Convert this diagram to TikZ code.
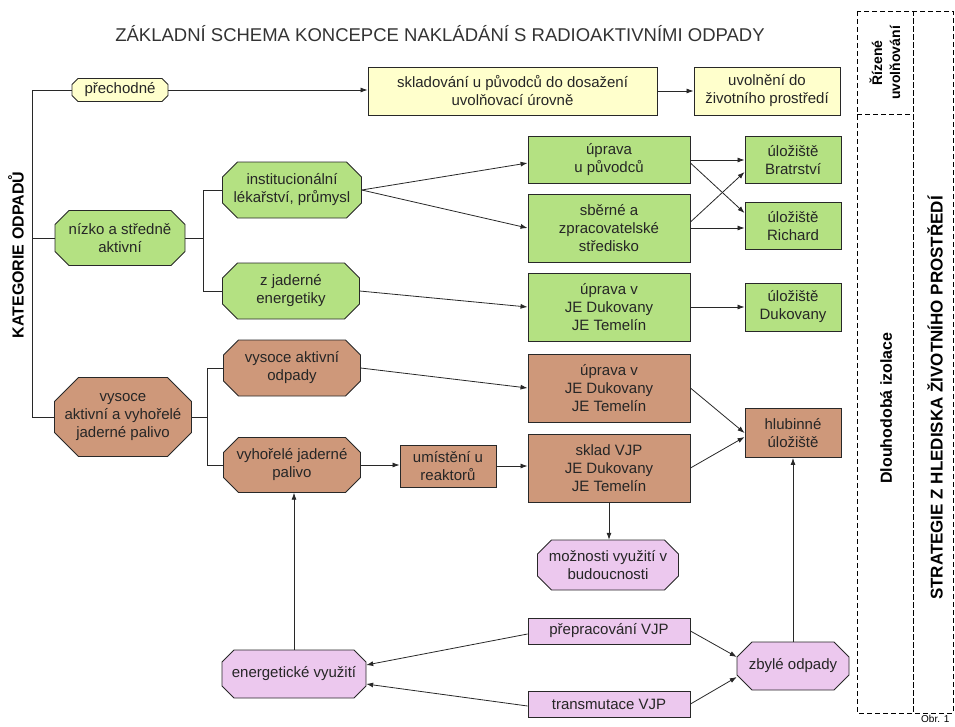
\documentclass[tikz,border=0pt]{standalone}
\usepackage{fontspec}
\setmainfont{Liberation Sans}
\usetikzlibrary{arrows.meta}
\definecolor{yel}{RGB}{255,255,204}
\definecolor{grn}{RGB}{180,225,130}
\definecolor{brn}{RGB}{206,152,122}
\definecolor{pnk}{RGB}{236,200,238}
\definecolor{edge}{RGB}{40,40,40}
\tikzset{
  shapeline/.style={draw=edge, line width=0.9pt},
  txt/.style={align=center, inner sep=0pt, font=\fontsize{15}{18}\selectfont, text=black!85},
  rbox/.style={txt, shapeline, rectangle},
  link/.style={draw=edge, line width=0.8pt},
  arr/.style={link, -{Latex[length=7pt,width=5pt]}},
  zone/.style={draw=black, line width=0.9pt, dash pattern=on 5pt off 3pt},
  vlabel/.style={rotate=90, align=center, inner sep=0pt, font=\fontsize{16}{18}\selectfont\bfseries},
}
% name, cx, cy, w, h, chamfer, fill, text
\newcommand\octo[8]{%
  \filldraw[shapeline, fill=#7]
    (#2-#4/2+#6, #3-#5/2) -- (#2+#4/2-#6, #3-#5/2) -- (#2+#4/2, #3-#5/2+#6) --
    (#2+#4/2, #3+#5/2-#6) -- (#2+#4/2-#6, #3+#5/2) -- (#2-#4/2+#6, #3+#5/2) --
    (#2-#4/2, #3+#5/2-#6) -- (#2-#4/2, #3-#5/2+#6) -- cycle;
  \node[txt, minimum width=#4pt, minimum height=#5pt] (#1) at (#2,#3) {#8};}
\begin{document}
\begin{tikzpicture}[x=1pt, y=-1pt]
\useasboundingbox (0,0) rectangle (955,726);

\node[font=\fontsize{18.5}{20}\selectfont, text=black!80] (title) at (440,34)
  {ZÁKLADNÍ SCHEMA KONCEPCE NAKLÁDÁNÍ S RADIOAKTIVNÍMI ODPADY};

% yellow row
\octo{prech}{120}{90}{96}{23}{6}{yel}{přechodné}
\node[rbox, fill=yel, minimum width=289pt, minimum height=48pt] (skl) at (512.5,91)
  {skladování u původců do dosažení\\uvolňovací úrovně};
\node[rbox, fill=yel, minimum width=146pt, minimum height=48pt] (uvol) at (767,91)
  {uvolnění do\\životního prostředí};

% green
\octo{nizko}{120}{238}{130}{55}{14}{grn}{nízko a středně\\aktivní}
\octo{inst}{292}{190}{139}{56}{15}{grn}{institucionální\\lékařství, průmysl}
\octo{zjad}{291}{291}{137}{56}{15}{grn}{z jaderné\\energetiky}
\node[rbox, fill=grn, minimum width=162pt, minimum height=47pt] (upr1) at (609,160) {úprava\\u původců};
\node[rbox, fill=grn, minimum width=162pt, minimum height=68pt] (sber) at (609,228) {sběrné a\\zpracovatelské\\středisko};
\node[rbox, fill=grn, minimum width=96pt, minimum height=47pt] (bratr) at (793,160) {úložiště\\Bratrství};
\node[rbox, fill=grn, minimum width=96pt, minimum height=47pt] (rich) at (793,226) {úložiště\\Richard};
\node[rbox, fill=grn, minimum width=162pt, minimum height=68pt] (uprJE) at (609,307) {úprava v\\JE Dukovany\\JE Temelín};
\node[rbox, fill=grn, minimum width=96pt, minimum height=48pt] (duk) at (793,307) {úložiště\\Dukovany};

% brown
\octo{vys}{123}{417}{137}{79}{24}{brn}{vysoce\\aktivní a vyhořelé\\jaderné palivo}
\octo{vao}{292}{368}{137}{56}{15}{brn}{vysoce aktivní\\odpady}
\octo{vjp}{292}{465}{137}{55}{15}{brn}{vyhořelé jaderné\\palivo}
\node[rbox, fill=brn, minimum width=96pt, minimum height=42pt] (umist) at (448,466) {umístění u\\reaktorů};
\node[rbox, fill=brn, minimum width=162pt, minimum height=68pt] (uprB) at (609,388) {úprava v\\JE Dukovany\\JE Temelín};
\node[rbox, fill=brn, minimum width=162pt, minimum height=68pt] (sklad) at (609,468) {sklad VJP\\JE Dukovany\\JE Temelín};
\node[rbox, fill=brn, minimum width=96pt, minimum height=49pt] (hlub) at (793,433) {hlubinné\\úložiště};

% pink
\octo{mozn}{608}{565}{141}{50}{14}{pnk}{možnosti využití v\\budoucnosti}
\node[rbox, fill=pnk, minimum width=162pt, minimum height=26pt] (prep) at (609,631) {přepracování VJP};
\node[rbox, fill=pnk, minimum width=162pt, minimum height=26pt] (trans) at (609,704) {transmutace VJP};
\octo{zbyl}{793}{666}{112}{48}{15}{pnk}{zbylé odpady}
\octo{energ}{294}{674}{144}{48}{12}{pnk}{energetické využití}

% trunk
\coordinate (tTop) at (32,90);
\coordinate (tBot) at (32,417);
\draw[link] (prech.west) -- (tTop) -- (tBot) -- (vys.west);
\draw[link] (nizko.west) -- (nizko.west -| tTop);
\node[vlabel] (kat) at (16,255) {KATEGORIE ODPADŮ};

% green bracket
\coordinate (bg) at (203,238);
\draw[link] (nizko.east) -- (bg);
\draw[link] (inst.west) -- (inst.west -| bg) -- (zjad.west -| bg) -- (zjad.west);
% brown bracket
\coordinate (bb) at (207,417);
\draw[link] (vys.east) -- (bb);
\draw[link] (vao.west) -- (vao.west -| bb) -- (vjp.west -| bb) -- (vjp.west);

% arrows
\draw[arr] (prech.east) -- (prech.east -| skl.west);
\draw[arr] (skl.east) -- (uvol.west);
\draw[arr] (inst.east) -- ([yshift=-3pt]upr1.west);
\draw[arr] (inst.east) -- (sber.west);
\draw[arr] (upr1.east) -- (bratr.west);
\draw[arr] (sber.east) -- (sber.east -| rich.west);
\draw[arr] ([yshift=-3pt]upr1.east) -- ([yshift=13pt]rich.west);
\draw[arr] ([yshift=6pt]sber.east) -- ([yshift=-12pt]bratr.west);
\draw[arr] (zjad.east) -- (uprJE.west);
\draw[arr] (uprJE.east) -- (duk.west);
\draw[arr] (vao.east) -- (uprB.west);
\draw[arr] (vjp.east) -- (vjp.east -| umist.west);
\draw[arr] (umist.east) -- (umist.east -| sklad.west);
\draw[arr] (uprB.east) -- (hlub.west);
\draw[arr] (sklad.east) -- ([yshift=-4pt]hlub.west);
\draw[arr] (sklad.south) -- (sklad.south |- mozn.north);
\draw[arr] (energ.north) -- (energ.north |- vjp.south);
\draw[arr] ([yshift=-3pt]prep.west) -- ([yshift=9pt]energ.east);
\draw[arr] ([yshift=-2pt]trans.west) -- ([yshift=-10pt]energ.east);
\draw[arr] (prep.east) -- ([yshift=9pt]zbyl.west);
\draw[arr] (trans.east) -- ([yshift=-11pt]zbyl.west);
\draw[arr] (zbyl.north) -- (hlub.south);

% strategy zones
\draw[zone] (857,11) rectangle (913,713);
\draw[zone] (913,11) rectangle (953,713);
\draw[zone] (857,114) -- (913,114);
\node[vlabel, font=\fontsize{14}{18}\selectfont\bfseries] (riz) at (885,63) {Řízené\\uvolňování};
\node[vlabel] (dlou) at (886,408) {Dlouhodobá izolace};
\node[vlabel, font=\fontsize{17}{18}\selectfont\bfseries] (strat) at (935,398) {STRATEGIE Z HLEDISKA ŽIVOTNÍHO PROSTŘEDÍ};
\node[anchor=north west, inner sep=0pt, font=\fontsize{10}{12}\selectfont] (obr) at (921,715) {Obr. 1};
\end{tikzpicture}
\end{document}
